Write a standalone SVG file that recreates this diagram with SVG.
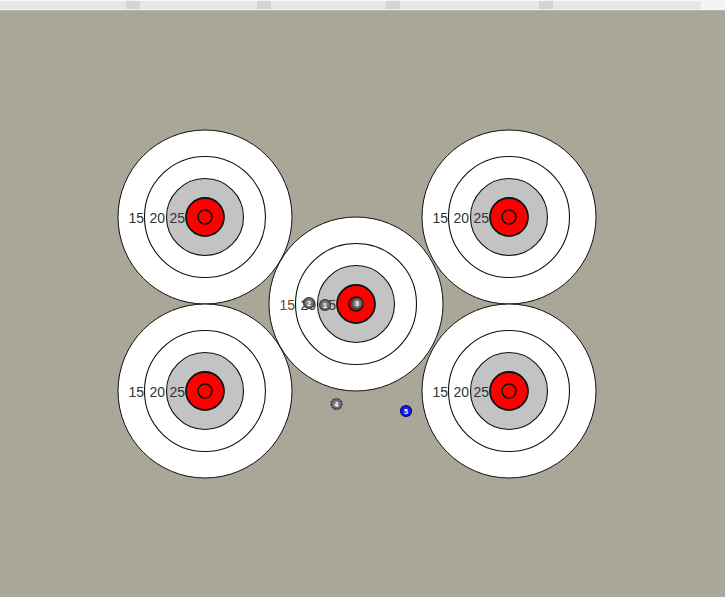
<svg xmlns="http://www.w3.org/2000/svg" xmlns:xlink="http://www.w3.org/1999/xlink" width="725" height="597" viewBox="0 0 725 597">
<style>
.outer{fill:#ffffff;stroke:#111;stroke-width:1}
.ring{fill:none;stroke:#111;stroke-width:1.1}
.grey{fill:#c3c3c3;stroke:#111;stroke-width:1.1}
.red{fill:#ff0000;stroke:#111;stroke-width:1.8}
.inner{fill:none;stroke:#111;stroke-width:1.6}
.lbl{font-family:"Liberation Sans",Arial,sans-serif;font-size:14px;fill:#333;text-anchor:end}
.shot{stroke:#3a3a3a;stroke-width:1.2;fill:url(#sg)}
.shotb{stroke:#00008a;stroke-width:1.2;fill:#1a1ae8}
.num{font-family:"Liberation Sans",Arial,sans-serif;font-size:7px;fill:#fff;text-anchor:middle;font-weight:bold}
</style>
<defs>
<radialGradient id="sg" cx="0.5" cy="0.5" r="0.5">
<stop offset="0" stop-color="#9a9a9a"/>
<stop offset="0.6" stop-color="#777"/>
<stop offset="1" stop-color="#555"/>
</radialGradient>
<g id="rings">
<circle class="outer" r="87"/>
<circle class="ring" r="60.5"/>
<circle class="grey" r="38.5"/>
<circle class="red" r="19"/>
<circle class="inner" r="7"/>
</g>
</defs>
<rect width="725" height="597" fill="#aaa798"/>
<rect width="725" height="10" fill="#e6e6e6"/>
<rect x="0" y="0" width="725" height="1.2" fill="#f6f6f6"/>
<rect x="0" y="9" width="725" height="1.2" fill="#f0f0f0"/>
<rect x="701" y="0" width="24" height="10" fill="#f4f4f4"/>
<g fill="#d4d4d4">
<rect x="126" y="1" width="14" height="8"/>
<rect x="257" y="1" width="14" height="8"/>
<rect x="386" y="1" width="14" height="8"/>
<rect x="539" y="1" width="14" height="8"/>
</g>

<g id="target-top-left" transform="translate(205,217)">
<use xlink:href="#rings"/>
<text class="lbl" x="-61" y="6">15</text>
<text class="lbl" x="-40" y="6">20</text>
<text class="lbl" x="-20" y="6">25</text>
</g>
<g id="target-top-right" transform="translate(509,217)">
<use xlink:href="#rings"/>
<text class="lbl" x="-61" y="6">15</text>
<text class="lbl" x="-40" y="6">20</text>
<text class="lbl" x="-20" y="6">25</text>
</g>
<g id="target-bottom-left" transform="translate(205,391)">
<use xlink:href="#rings"/>
<text class="lbl" x="-61" y="6">15</text>
<text class="lbl" x="-40" y="6">20</text>
<text class="lbl" x="-20" y="6">25</text>
</g>
<g id="target-bottom-right" transform="translate(509,391)">
<use xlink:href="#rings"/>
<text class="lbl" x="-61" y="6">15</text>
<text class="lbl" x="-40" y="6">20</text>
<text class="lbl" x="-20" y="6">25</text>
</g>
<g id="target-center" transform="translate(356,304)">
<use xlink:href="#rings"/>
<text class="lbl" x="-61" y="6" style="fill:#5e4a36">15</text>
<text class="lbl" x="-40" y="6">20</text>
<text class="lbl" x="-20" y="6">25</text>
</g>

<g id="shot-2"><circle class="shot" cx="309" cy="303" r="5.5"/><text class="num" x="309" y="305.5">2</text></g>
<g id="shot-1"><circle class="shot" cx="325" cy="305" r="5.5"/><text class="num" x="325" y="307.5">1</text></g>
<g id="shot-3"><circle class="shot" cx="357" cy="303.5" r="5.5"/><text class="num" x="357" y="306">3</text></g>
<g id="shot-4"><circle class="shot" cx="336.5" cy="404" r="5.5" style="stroke-dasharray:2 1"/><text class="num" x="336.5" y="406.5">4</text></g>
<g id="shot-5"><circle class="shotb" cx="406" cy="411" r="5.5"/><text class="num" x="406" y="413.5">5</text></g>
</svg>
